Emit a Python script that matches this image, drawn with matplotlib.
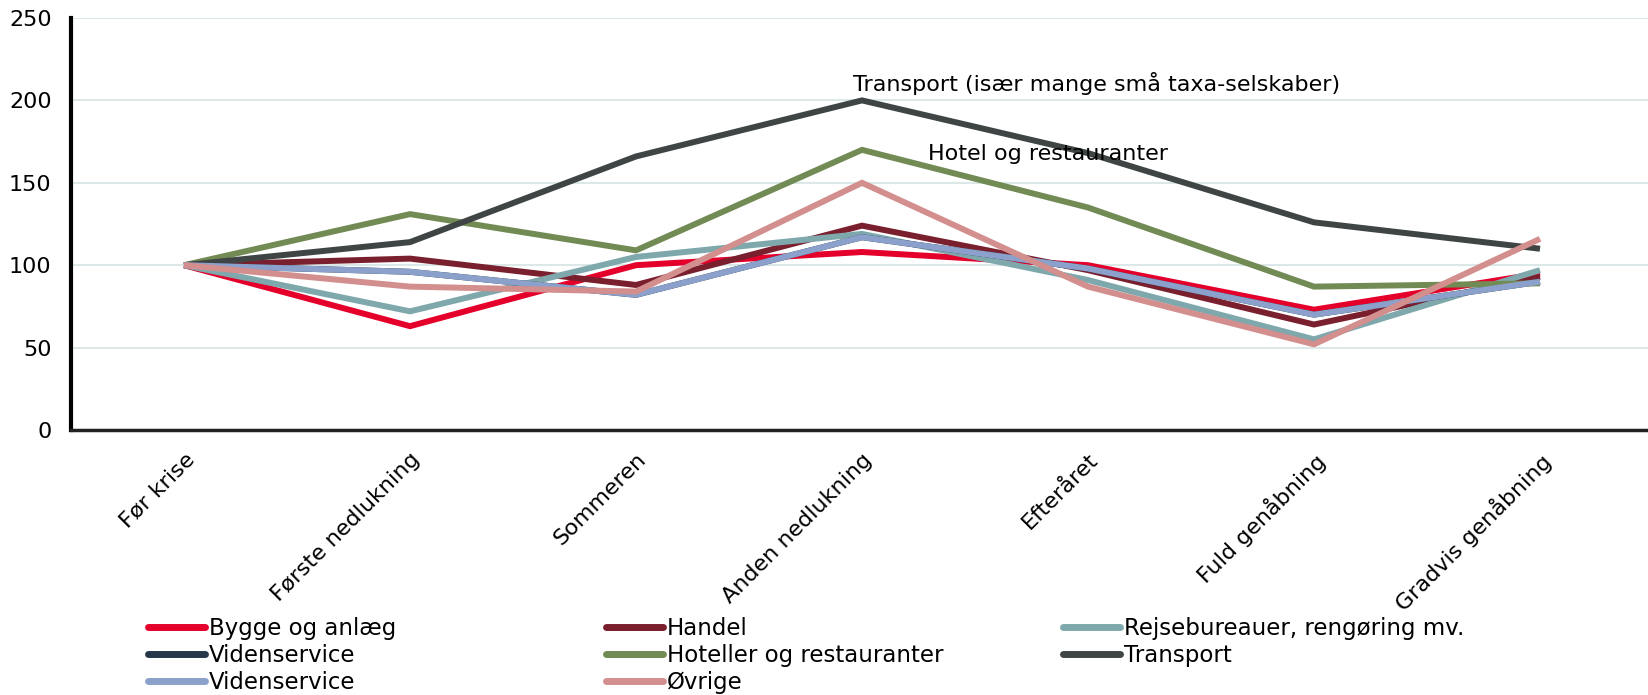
import matplotlib
matplotlib.use("Agg")
import matplotlib.pyplot as plt
from matplotlib.lines import Line2D

plt.rcParams['font.family'] = ['DejaVu Sans']

perioder = ["Før krise", "Første nedlukning", "Sommeren", "Anden nedlukning",
            "Efteråret", "Fuld genåbning", "Gradvis genåbning"]

bygge = [100, 63, 100, 108, 100, 73, 95]
handel = [100, 104, 88, 124, 97, 64, 93]
rejse = [100, 72, 105, 119, 91, 55, 97]
viden_1 = [100, 96, 82, 117, 98, 70, 90]
hoteller = [100, 131, 109, 170, 135, 87, 89]
transport = [100, 114, 166, 200, 168, 126, 110]
viden_2 = [100, 96, 82, 117, 98, 70, 90]
oevrige = [100, 87, 84, 150, 87, 52, 116]

serier = [
    ("Bygge og anlæg", bygge, "#E4002B"),
    ("Handel", handel, "#7A1F2E"),
    ("Rejsebureauer, rengøring mv.", rejse, "#7FA8AD"),
    ("Videnservice", viden_1, "#26374A"),
    ("Hoteller og restauranter", hoteller, "#728B55"),
    ("Transport", transport, "#3F4444"),
    ("Videnservice", viden_2, "#8BA1CB"),
    ("Øvrige", oevrige, "#D38E8E"),
]

fig = plt.figure(figsize=(16.48, 6.95), dpi=100)
ax = fig.add_axes([71 / 1648, 1 - 430 / 695, 1582 / 1648, (430 - 18) / 695])

x = list(range(len(perioder)))
handles = []
for navn, vals, farve in serier:
    ax.plot(x, vals, color=farve, lw=4.3, solid_joinstyle="miter", solid_capstyle="butt")
    handles.append(Line2D([0], [0], color=farve, lw=5, solid_capstyle="round"))

ax.set_xlim(-0.5, 6.5)
ax.set_ylim(0, 250)
ax.set_yticks([0, 50, 100, 150, 200, 250])
ax.grid(axis="y", color="#DCE8E8", lw=1.5)
ax.set_axisbelow(True)
for s in ["top", "right"]:
    ax.spines[s].set_visible(False)
ax.spines["left"].set_linewidth(3)
ax.spines["left"].set_color("black")
ax.spines["bottom"].set_linewidth(2.5)
ax.spines["bottom"].set_color("#222222")
ax.tick_params(axis="y", length=0, pad=14, labelsize=16)
ax.tick_params(axis="x", length=0, pad=14)
ax.set_xticks(x)
ax.set_xticklabels(perioder, rotation=45, ha="right", va="top",
                   rotation_mode="anchor", fontsize=16)

ax.text(2.96, 210, "Transport (især mange små taxa-selskaber)", fontsize=16,
        va="center", ha="left")
ax.text(3.29, 167.5, "Hotel og restauranter", fontsize=16, va="center", ha="left")

# legend in three columns, filled row by row like the original
navne = [s[0] for s in serier]
kolonner = [[0, 3, 6], [1, 4, 7], [2, 5]]
xpos = [148 / 1648, 606 / 1648, 1063 / 1648]
for kol, xp in zip(kolonner, xpos):
    fig.legend([handles[i] for i in kol], [navne[i] for i in kol],
               loc="upper left", bbox_to_anchor=(xp, 1 - 617 / 695),
               frameon=False, fontsize=16.5, handlelength=2.5, handletextpad=0.15,
               labelspacing=0.17, borderpad=0, borderaxespad=0)

fig.savefig("out.png", dpi=100)
